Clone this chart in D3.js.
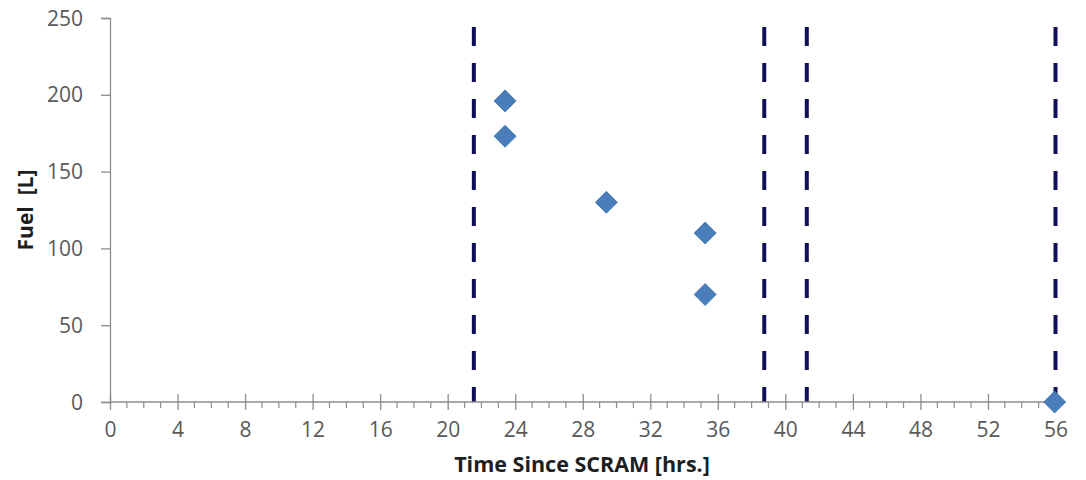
<!DOCTYPE html>
<html>
<head>
<meta charset="utf-8">
<script src="https://cdn.jsdelivr.net/npm/d3@7"></script>
<style>
  html, body { margin: 0; padding: 0; background: #fff; }
  svg { display: block; }
  text { font-family: "Open Sans", "Noto Sans", sans-serif; }
</style>
</head>
<body>
<svg id="chart" width="1086" height="480"></svg>
<script>
// ---- data ----
const timeHrs = [23.4, 23.4, 29.4, 35.25, 35.25, 55.95];
const fuelL   = [196, 173, 130, 110, 70, 0];
const eventTimes = [21.55, 38.75, 41.27, 56];
const xTickValues = [0, 4, 8, 12, 16, 20, 24, 28, 32, 36, 40, 44, 48, 52, 56];
const yTickValues = [0, 50, 100, 150, 200, 250];
const xTitle = "Time Since SCRAM [hrs.]";
const yTitle = "Fuel  [L]";

(function () {
// ---- layout ----
const svg = d3.select("#chart");
const mLeft = 110, mRight = 1055.5, mTop = 18, mBottom = 402;
const x = d3.scaleLinear().domain([0, 56]).range([mLeft, mRight]);
const y = d3.scaleLinear().domain([0, 250]).range([mBottom, mTop]);
const axisColor = "#8c8c8c";
const labelColor = "#595959";

// event lines (dashed)
svg.append("g").selectAll("line").data(eventTimes).join("line")
  .attr("x1", d => x(d)).attr("x2", d => x(d))
  .attr("y1", y(250)).attr("y2", y(0))
  .attr("stroke", "#10105a")
  .attr("stroke-width", 4)
  .attr("stroke-dasharray", "19,17")
  .attr("stroke-dashoffset", 27);

// y axis
const yAxis = d3.axisLeft(y).tickValues(yTickValues).tickSize(9).tickPadding(18).tickFormat(d3.format("d"));
const gy = svg.append("g").attr("transform", `translate(${mLeft},0)`).call(yAxis);
gy.select(".domain").attr("stroke", axisColor).attr("stroke-width", 1.3);
gy.selectAll(".tick line").attr("stroke", axisColor).attr("stroke-width", 1.3);
gy.selectAll(".tick text").attr("fill", labelColor).style("font-size", "21px")
  .style("font-family", '"Open Sans", sans-serif').attr("dy", "0.34em");

// x axis: minor ticks (every hour, outside)
const minorTicks = d3.range(0, 57, 1).filter(v => v % 4 !== 0);
const gx = svg.append("g");
gx.append("line").attr("x1", x(0)).attr("x2", x(56)).attr("y1", mBottom).attr("y2", mBottom)
  .attr("stroke", axisColor).attr("stroke-width", 1.3);
gx.selectAll("line.minor").data(minorTicks).join("line").attr("class", "minor")
  .attr("x1", d => x(d)).attr("x2", d => x(d)).attr("y1", mBottom).attr("y2", mBottom + 6)
  .attr("stroke", axisColor).attr("stroke-width", 1.2);
// major ticks (cross)
const xAxis = d3.axisBottom(x).tickValues(xTickValues).tickSize(8).tickPadding(18).tickFormat(d3.format("d"));
const gxa = svg.append("g").attr("transform", `translate(0,${mBottom})`).call(xAxis);
gxa.select(".domain").remove();
gxa.selectAll(".tick line").attr("y1", -8).attr("y2", 8).attr("stroke", axisColor).attr("stroke-width", 1.3);
gxa.selectAll(".tick text").attr("fill", labelColor).style("font-size", "21px")
  .style("font-family", '"Open Sans", sans-serif').attr("y", 28).attr("dy", "0.35em");

// titles
svg.append("text").attr("x", 582).attr("y", 472)
  .attr("text-anchor", "middle").attr("fill", "#1e1e1e")
  .style("font-size", "21.5px").style("font-weight", "bold").text(xTitle);
svg.append("text").attr("transform", `translate(33,${(mTop + mBottom) / 2}) rotate(-90)`)
  .attr("text-anchor", "middle").attr("fill", "#1e1e1e")
  .style("font-size", "21px").style("font-weight", "bold").style("white-space", "pre")
  .text(yTitle);

// points (diamonds)
const pts = timeHrs.map((t, i) => ({ t, f: fuelL[i] }));
const r = 11;
svg.append("g").selectAll("path").data(pts).join("path")
  .attr("transform", d => `translate(${x(d.t)},${y(d.f)})`)
  .attr("d", `M0,${-r}L${r},0L0,${r}L${-r},0Z`)
  .attr("fill", "#4a7ebb")
  .attr("stroke", "#3f6fa8").attr("stroke-width", 0.8);
})();
</script>
</body>
</html>
